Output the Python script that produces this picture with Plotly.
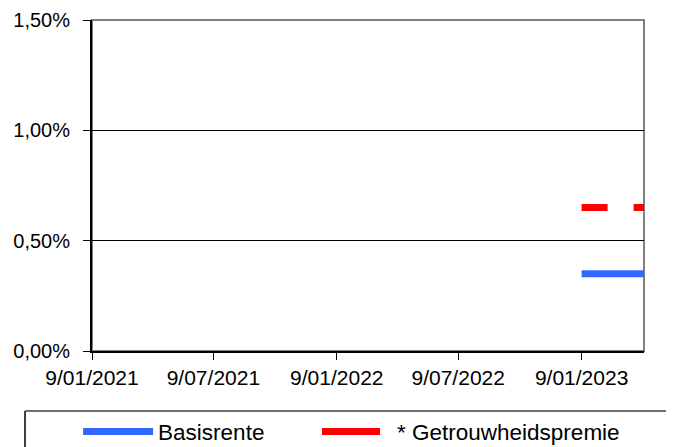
import plotly.graph_objects as go

# Data
dates = ["2023-01-09", "2023-04-12"]
basisrente = [0.0035, 0.0035]
getrouwheidspremie = [0.0065, 0.0065]
x_tickvals = ["2021-01-09", "2021-07-09", "2022-01-09", "2022-07-09", "2023-01-09"]
x_ticktext = ["9/01/2021", "9/07/2021", "9/01/2022", "9/07/2022", "9/01/2023"]
y_tickvals = [0, 0.005, 0.01, 0.015]
series_names = ["Basisrente", "* Getrouwheidspremie"]
colors = ["#3366FF", "#FF0000"]

FONT = "Liberation Sans, Arial, sans-serif"
LEG_FONT = dict(family=FONT, size=22.5, color="black")

fig = go.Figure()
fig.add_trace(go.Scatter(x=dates, y=basisrente, mode="lines", name=series_names[0],
                         legend="legend",
                         line=dict(color=colors[0], width=7)))
fig.add_trace(go.Scatter(x=dates, y=getrouwheidspremie, mode="lines", name=series_names[1],
                         showlegend=False,
                         line=dict(color=colors[1], width=7, dash="26px,26px")))
# legend entry for the dashed series (shows a single dash, as in the reference)
fig.add_trace(go.Scatter(x=[None], y=[None], mode="lines", name=series_names[1],
                         legend="legend2",
                         line=dict(color=colors[1], width=7, dash="58px,200px")))

fig.update_layout(
    width=674, height=447,
    margin=dict(l=84, r=38, t=12, b=104, autoexpand=False),
    paper_bgcolor="white", plot_bgcolor="white",
    separators=",.",
    font=dict(family=FONT, size=20, color="black"),
    showlegend=True,
    legend=dict(orientation="h", xref="container", yref="container",
                x=0.104, xanchor="left", y=0.0515, yanchor="middle",
                font=LEG_FONT, itemwidth=70, bgcolor="rgba(0,0,0,0)"),
    legend2=dict(orientation="h", xref="container", yref="container",
                 x=0.4585, xanchor="left", y=0.0515, yanchor="middle",
                 font=LEG_FONT, itemwidth=70, bgcolor="rgba(0,0,0,0)"),
    shapes=[
        dict(type="rect", xref="paper", yref="paper", x0=0, x1=1, y0=0, y1=1,
             line=dict(color="#808080", width=2), layer="below"),
        # legend frame
        dict(type="line", xref="paper", yref="paper", x0=-0.1214, x1=1.0525, y0=-0.1813, y1=-0.1813,
             line=dict(color="#707070", width=2)),
        dict(type="line", xref="paper", yref="paper", x0=-0.1214, x1=-0.1214, y0=-0.1813, y1=-0.4,
             line=dict(color="#404040", width=2)),
        dict(type="line", xref="paper", yref="paper", x0=1.0525, x1=1.0525, y0=-0.1813, y1=-0.4,
             line=dict(color="#d0d0d0", width=1)),
    ],
)
fig.update_xaxes(type="date", range=["2021-01-09", "2023-04-12"],
                 tickvals=x_tickvals, ticktext=x_ticktext,
                 tickfont=dict(size=21),
                 showgrid=False, zeroline=False,
                 showline=True, linecolor="black", linewidth=2,
                 ticks="outside", ticklen=7, tickcolor="black", tickwidth=1)
fig.update_yaxes(range=[0, 0.015], tickvals=y_tickvals, tickformat=".2%",
                 showgrid=True, gridcolor="black", gridwidth=1, zeroline=False,
                 showline=True, linecolor="black", linewidth=2,
                 ticks="outside", ticklen=7, tickcolor="black", tickwidth=1,
                 ticklabelstandoff=9)

fig.write_html("out.html")
